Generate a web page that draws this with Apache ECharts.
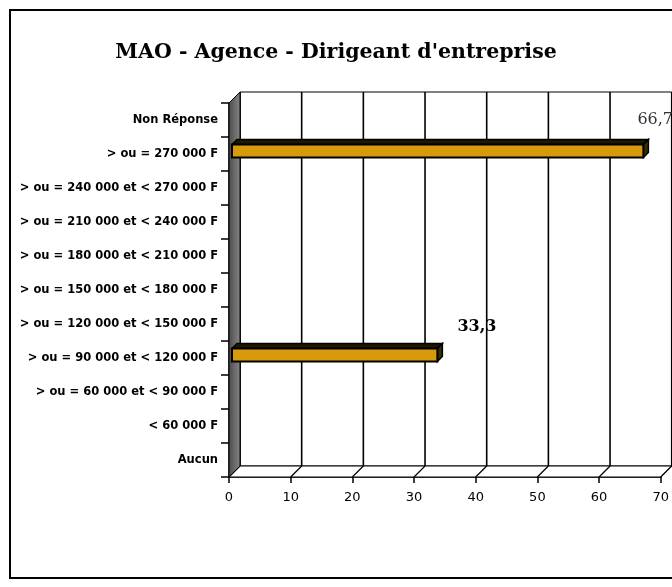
<!DOCTYPE html>
<html>
<head>
<meta charset="utf-8">
<script src="https://cdn.jsdelivr.net/npm/echarts@6/dist/echarts.min.js"></script>
<style>
html,body{margin:0;padding:0;background:#fff;}
#chart{width:672px;height:587px;}
</style>
</head>
<body>
<div id="chart"></div>
<script>
// ---- data ----
const titleText = "MAO - Agence - Dirigeant d'entreprise";
const categories = [
  'Aucun',
  '< 60 000 F',
  '> ou = 60 000 et < 90 000 F',
  '> ou = 90 000 et < 120 000 F',
  '> ou = 120 000 et < 150 000 F',
  '> ou = 150 000 et < 180 000 F',
  '> ou = 180 000 et < 210 000 F',
  '> ou = 210 000 et < 240 000 F',
  '> ou = 240 000 et < 270 000 F',
  '> ou = 270 000 F',
  'Non Réponse'
];
const values = [0, 0, 0, 33.3, 0, 0, 0, 0, 0, 66.7, 0];
const valueLabels = ['', '', '', '33,3', '', '', '', '', '', '66,7', ''];
const xTicks = [0, 10, 20, 30, 40, 50, 60, 70];

// ---- rendering ----
const chart = echarts.init(document.getElementById('chart'), null, {renderer: 'canvas'});
const DEPTH = 11;      // depth of the 3D walls
const BAR_BACK = 3;    // bar position inside the depth
const BAR_DEPTH = 5;   // bar thickness in depth
const BAR_H = 13;
const labelPlacement = {3: {dx: 23, dy: -31, bold: true}, 9: {dx: -3, dy: -34, bold: false}};

function wallsRender(params, api) {
  const cs = params.coordSys;
  const x = cs.x, y = cs.y, w = cs.width, h = cs.height, D = DEPTH;
  const children = [];
  children.push({type: 'rect', shape: {x: x + D, y: y - D, width: w, height: h},
    style: {fill: '#fff', stroke: '#000', lineWidth: 1}});
  xTicks.forEach(function (v) {
    const xp = api.coord([v, 0])[0];
    children.push({type: 'line', shape: {x1: xp + D, y1: y - D, x2: xp + D, y2: y + h - D},
      style: {stroke: '#000', lineWidth: 1.6}});
  });
  children.push({type: 'polygon', shape: {points: [[x + w, y + h], [x, y + h], [x + D, y + h - D], [x + w + D, y + h - D]]},
    style: {fill: '#fff', stroke: '#000', lineWidth: 1}});
  xTicks.forEach(function (v) {
    const xp = api.coord([v, 0])[0];
    children.push({type: 'line', shape: {x1: xp, y1: y + h, x2: xp + D, y2: y + h - D},
      style: {stroke: '#000', lineWidth: 1.2}});
  });
  children.push({type: 'polygon', shape: {points: [[x, y], [x + D, y - D], [x + D, y + h - D], [x, y + h]]},
    style: {fill: new echarts.graphic.LinearGradient(0, 0, 1, 0, [
      {offset: 0, color: '#4a4a4a'}, {offset: 0.5, color: '#6a6a6a'}, {offset: 1, color: '#858585'}]),
      stroke: '#000', lineWidth: 1}});
  return {type: 'group', children: children};
}

function barsRender(params, api) {
  const v = api.value(0);
  const idx = params.dataIndex;
  if (!v) return null;
  const c = api.value(1);
  const p0 = api.coord([0, c]);
  const p1 = api.coord([v, c]);
  const x0 = p0[0] + BAR_BACK, x1 = p1[0] + BAR_BACK;
  const yc = p0[1] - BAR_BACK;
  const yt = yc - BAR_H / 2, yb = yc + BAR_H / 2, t = BAR_DEPTH;
  const lp = labelPlacement[idx] || {dx: 10, dy: -30, bold: true};
  return {type: 'group', children: [
    {type: 'polygon', shape: {points: [[x0, yt], [x0 + t, yt - t], [x1 + t, yt - t], [x1, yt]]},
      style: {fill: '#1e1800', stroke: '#000', lineWidth: 1.5}},
    {type: 'polygon', shape: {points: [[x1, yt], [x1 + t, yt - t], [x1 + t, yb - t], [x1, yb]]},
      style: {fill: '#3a2e00', stroke: '#000', lineWidth: 1.5}},
    {type: 'rect', shape: {x: x0, y: yt, width: x1 - x0, height: BAR_H},
      style: {fill: '#d69a0a', stroke: '#000', lineWidth: 2}},
    {type: 'text', x: p1[0] + lp.dx, y: p1[1] + lp.dy,
      style: {text: valueLabels[idx], fill: lp.bold ? '#000' : '#333',
        font: (lp.bold ? 'bold ' : '') + '16px "DejaVu Serif"', verticalAlign: 'middle', align: 'left'}}
  ]};
}

const option = {
  backgroundColor: '#fff',
  animation: false,
  title: {
    text: titleText, left: 'center', top: 37,
    textStyle: {fontFamily: 'DejaVu Serif', fontWeight: 'bold', fontSize: 20.5, color: '#000'}
  },
  graphic: [{type: 'rect', shape: {x: 10, y: 10, width: 720, height: 568},
    style: {fill: 'none', stroke: '#000', lineWidth: 2}, z: 100}],
  grid: {left: 229, top: 103, width: 433, height: 374},
  xAxis: {
    type: 'value', min: 0, max: 70, interval: 10,
    axisLine: {show: true, lineStyle: {color: '#000', width: 1.5}},
    axisTick: {show: true, length: 6, lineStyle: {color: '#000', width: 1.5}},
    axisLabel: {color: '#000', fontFamily: 'DejaVu Sans', fontSize: 13, margin: 14,
      formatter: function (v) { return xTicks.indexOf(v) >= 0 ? String(v) : ''; }},
    splitLine: {show: false}
  },
  yAxis: {
    type: 'category', data: categories,
    axisLine: {show: true, lineStyle: {color: '#000', width: 1.5}},
    axisTick: {show: true, length: 8, lineStyle: {color: '#000', width: 1.5}},
    axisLabel: {color: '#000', fontFamily: 'DejaVu Sans', fontWeight: 'bold', fontSize: 11.5, margin: 11},
    splitLine: {show: false}
  },
  series: [
    {type: 'custom', coordinateSystem: 'cartesian2d', renderItem: wallsRender,
      data: [[0, 0]], z: 1, silent: true, clip: false},
    {type: 'custom', coordinateSystem: 'cartesian2d', renderItem: barsRender,
      data: values.map(function (v, i) { return [v, i]; }), z: 5, clip: false}
  ]
};
chart.setOption(option);
</script>
</body>
</html>
